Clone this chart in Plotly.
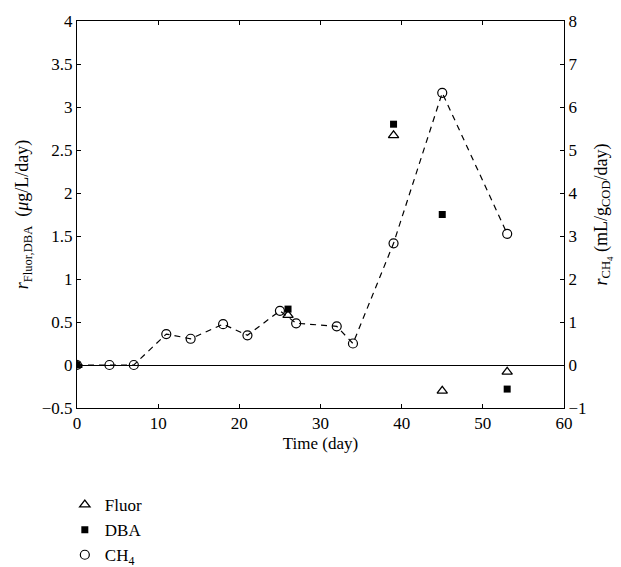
import plotly.graph_objects as go

# Data
fluor_t = [0, 26, 39, 45, 53]
fluor_v = [0, 0.58, 2.67, -0.30, -0.08]
dba_t = [0, 26, 39, 45, 53]
dba_v = [0, 0.65, 2.80, 1.75, -0.28]
ch4_t = [0, 4, 7, 11, 14, 18, 21, 25, 27, 32, 34, 39, 45, 53]
ch4_v = [0, 0, 0, 0.72, 0.61, 0.95, 0.69, 1.26, 0.97, 0.90, 0.50, 2.83, 6.33, 3.05]

FONT = "Liberation Serif, Times New Roman, Times, serif"

fig = go.Figure()
fig.add_trace(go.Scatter(
    x=ch4_t, y=ch4_v, mode="lines", showlegend=False, hoverinfo="skip",
    line=dict(color="black", width=1.2, dash="6px,5px"),
    yaxis="y2"))
fig.add_trace(go.Scatter(
    x=fluor_t, y=fluor_v, mode="markers", name="Fluor",
    marker=dict(symbol="triangle-up-open", size=9, color="black", line=dict(width=1.3, color="black")),
    yaxis="y"))
fig.add_trace(go.Scatter(
    x=dba_t, y=dba_v, mode="markers", name="DBA",
    marker=dict(symbol="square", size=7, color="black"),
    yaxis="y"))
fig.add_trace(go.Scatter(
    x=ch4_t, y=ch4_v, mode="markers", name="CH<sub>4</sub>",
    marker=dict(symbol="circle-open", size=9, color="black", line=dict(width=1.2, color="black")),
    yaxis="y2"))

axis_common = dict(
    showgrid=False, showline=True, linecolor="black", linewidth=1,
    ticks="inside", ticklen=4, tickcolor="black", tickwidth=1,
    tickfont=dict(family=FONT, size=17, color="black"),
)

fig.update_layout(
    width=621, height=567,
    margin=dict(l=77, r=57, t=21, b=159),
    paper_bgcolor="white", plot_bgcolor="white",
    font=dict(family=FONT, size=17, color="black"),
    xaxis=dict(
        range=[0, 60], dtick=10, mirror="ticks", zeroline=False,
        title=dict(text="Time (day)", font=dict(family=FONT, size=17), standoff=4),
        **axis_common),
    yaxis=dict(
        range=[-0.5, 4], dtick=0.5, zeroline=True, zerolinecolor="black", zerolinewidth=1,
        title=dict(text="<i>r</i><sub>Fluor,DBA</sub>  (<i>μ</i>g/L/day)", font=dict(family=FONT, size=18), standoff=8),
        **axis_common),
    yaxis2=dict(
        range=[-1, 8], dtick=1, overlaying="y", side="right", zeroline=False,
        title=dict(text="<i>r</i><sub>CH<sub>4</sub></sub> (mL/g<sub>COD</sub>/day)", font=dict(family=FONT, size=18), standoff=8),
        **axis_common),
    legend=dict(
        xref="paper", yref="container",
        x=-0.025, y=1 - 487/567,
        xanchor="left", yanchor="top",
        font=dict(family=FONT, size=17, color="black"),
        bgcolor="rgba(0,0,0,0)",
    ),
    showlegend=True,
)

fig.write_html("out.html")
